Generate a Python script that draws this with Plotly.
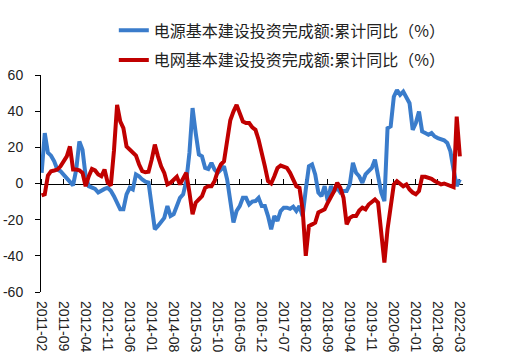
import pandas as pd
import plotly.graph_objects as go

months = pd.period_range("2011-02", "2022-03", freq="M").strftime("%Y-%m").tolist()

power_source = [
    5.9, 27.9, 17, 15.4, 12.3, 7.7, 6.8, 5, 3, 1.3,
    -1, 7.7, 23.3, 18.7, 4, -1.5, -2.4, -3, -5, -3.7,
    -3, -2.4, -4, -7, -10.6, -14.3, -14.3, -6, -2.4, -3.3,
    5, 4, 2.2, 1, 0.5, -12.5, -25.3, -23.5, -21.6, -19,
    -12.5, -18, -17, -12.5, -7.9, -6, 1.3, 16.9, 41.7, 27.9,
    16, 15, 8.6, 8, 11.4, 7.7, 5.9, 7.7, 9.5, 2.2,
    -10.6, -21.6, -15.2, -12.5, -7.9, -7.9, -11.6, -10, -9.7, -7.9,
    -12.5, -12.5, -18, -25.3, -18, -20.7, -15.2, -13.4, -13.4, -14,
    -12.8, -15.2, -12.5, -18, -3.3, 9.5, 10.5, 5, -5, -7,
    -1.5, -9.7, -1.5, -4.2, -2.4, -5, -4.2, -4.2, -0.5, 11.4,
    5.9, 4, 0.4, 5, 6.8, 8.6, 13.2, 4, -5, -9.7,
    30.6, 31.6, 48, 51.7, 49, 50.8, 47.2, 44.4, 29.7, 33.4,
    39.8, 28.8, 27.9, 27, 27.9, 26, 25.1, 24.6, 23.9, 22.4,
    17.8, 7.7, -1.5, 2.2,
]

power_grid = [
    -6.6, -6, 4.4, 6.8, 7.2, 7.7, 9.5, 12.3, 15, 20.5,
    7.7, 7.7, 7.3, 5.9, -1.5, 4, 8, 7.2, 5, 4,
    7.7, 0.4, -1.1, 18, 43.5, 34.3, 30.6, 20.5, 19, 17,
    15.4, 10.5, 6.8, 6.2, 6.5, 13.2, 21.5, 15, 9.5, 5.9,
    -0.5, 0.4, 2.2, 3.7, -0.5, 3.1, 5.9, -5, -17, -10.6,
    -8.8, -7, -2.4, -1.5, -1.5, 1.3, 6.8, 10.5, 12.3, 23.3,
    35, 39.8, 43.5, 38.9, 34.3, 33.4, 33.4, 31, 29.7, 24.2,
    17.8, 9.5, 1.3, 0, 4, 8.6, 9.9, 9.5, 8.6, 5.9,
    2.2, -1.5, -2.4, -14.3, -40, -23.5, -22.6, -21.6, -16, -15.2,
    -14.3, -10.6, -7.9, -4.2, 0.4, -2.4, -7.9, -22.6, -19, -18,
    -18, -15, -13.4, -14.3, -11.6, -10.3, -8.8, -10.6, -29, -43.7,
    -25.3, -10.6, -0.5, 1.3, -0.5, -1.5, -0.5, -3.3, -5, -6,
    -4.2, 3.7, 3.7, 3.1, 2.6, 1.3, 0.4, -0.5, 0, -0.5,
    -1.5, -2, 37, 15,
]

tick_labels = months[::7]
y_ticks = [60, 40, 20, 0, -20, -40, -60]
y_tick_text = ["60", "40", "20", "0", "-20", "-40", "-60"]

name_source = "电源基本建设投资完成额:累计同比（%）"
name_grid = "电网基本建设投资完成额:累计同比（%）"

fig = go.Figure()
fig.add_trace(go.Scatter(
    x=months, y=power_source, mode="lines", name=name_source,
    line=dict(color="#3A7CCB", width=4), xaxis="x", yaxis="y",
    legendgroup="a",
))
fig.add_trace(go.Scatter(
    x=months, y=power_grid, mode="lines", name=name_grid,
    line=dict(color="#C00000", width=4), xaxis="x2", yaxis="y",
    legendgroup="b",
))

tick_font = dict(family="Liberation Sans, Arial, sans-serif", size=14, color="#222222")
xr = [-0.2, 134]

fig.update_layout(
    width=515, height=361,
    margin=dict(l=41, r=52, t=75, b=69, autoexpand=False),
    paper_bgcolor="white", plot_bgcolor="white",
    showlegend=True,
    legend=dict(
        xref="container", yref="container",
        x=0.221, y=0.963, xanchor="left", yanchor="top",
        font=dict(family="Noto Sans CJK SC", size=16, color="#222222"),
        traceorder="grouped", tracegroupgap=6,
        bgcolor="rgba(0,0,0,0)",
    ),
    xaxis=dict(
        type="category", categoryorder="array", categoryarray=months,
        range=xr, tickmode="array", tickvals=tick_labels, ticktext=tick_labels,
        tickangle=90, ticks="", showline=False, showgrid=False, zeroline=False,
        tickfont=tick_font, ticklabelstandoff=8,
    ),
    xaxis2=dict(
        type="category", categoryorder="array", categoryarray=months,
        overlaying="x", anchor="free", position=0.5, side="top",
        range=xr, tickmode="array", tickvals=tick_labels,
        showticklabels=False, ticks="outside", ticklen=5, tickcolor="black",
        tickwidth=1, showline=True, linecolor="black", linewidth=1,
        showgrid=False, zeroline=False, layer="below traces",
    ),
    yaxis=dict(
        range=[-60, 60], tickmode="array", tickvals=y_ticks, ticktext=y_tick_text,
        ticks="outside", ticklen=5, tickcolor="black", showline=True,
        linecolor="black", linewidth=1, showgrid=False, zeroline=False,
        tickfont=tick_font, ticklabelstandoff=9,
    ),
)

fig.write_html(
    "out.html",
    config={"displayModeBar": False},
    post_script="document.body.style.margin='0';",
)
